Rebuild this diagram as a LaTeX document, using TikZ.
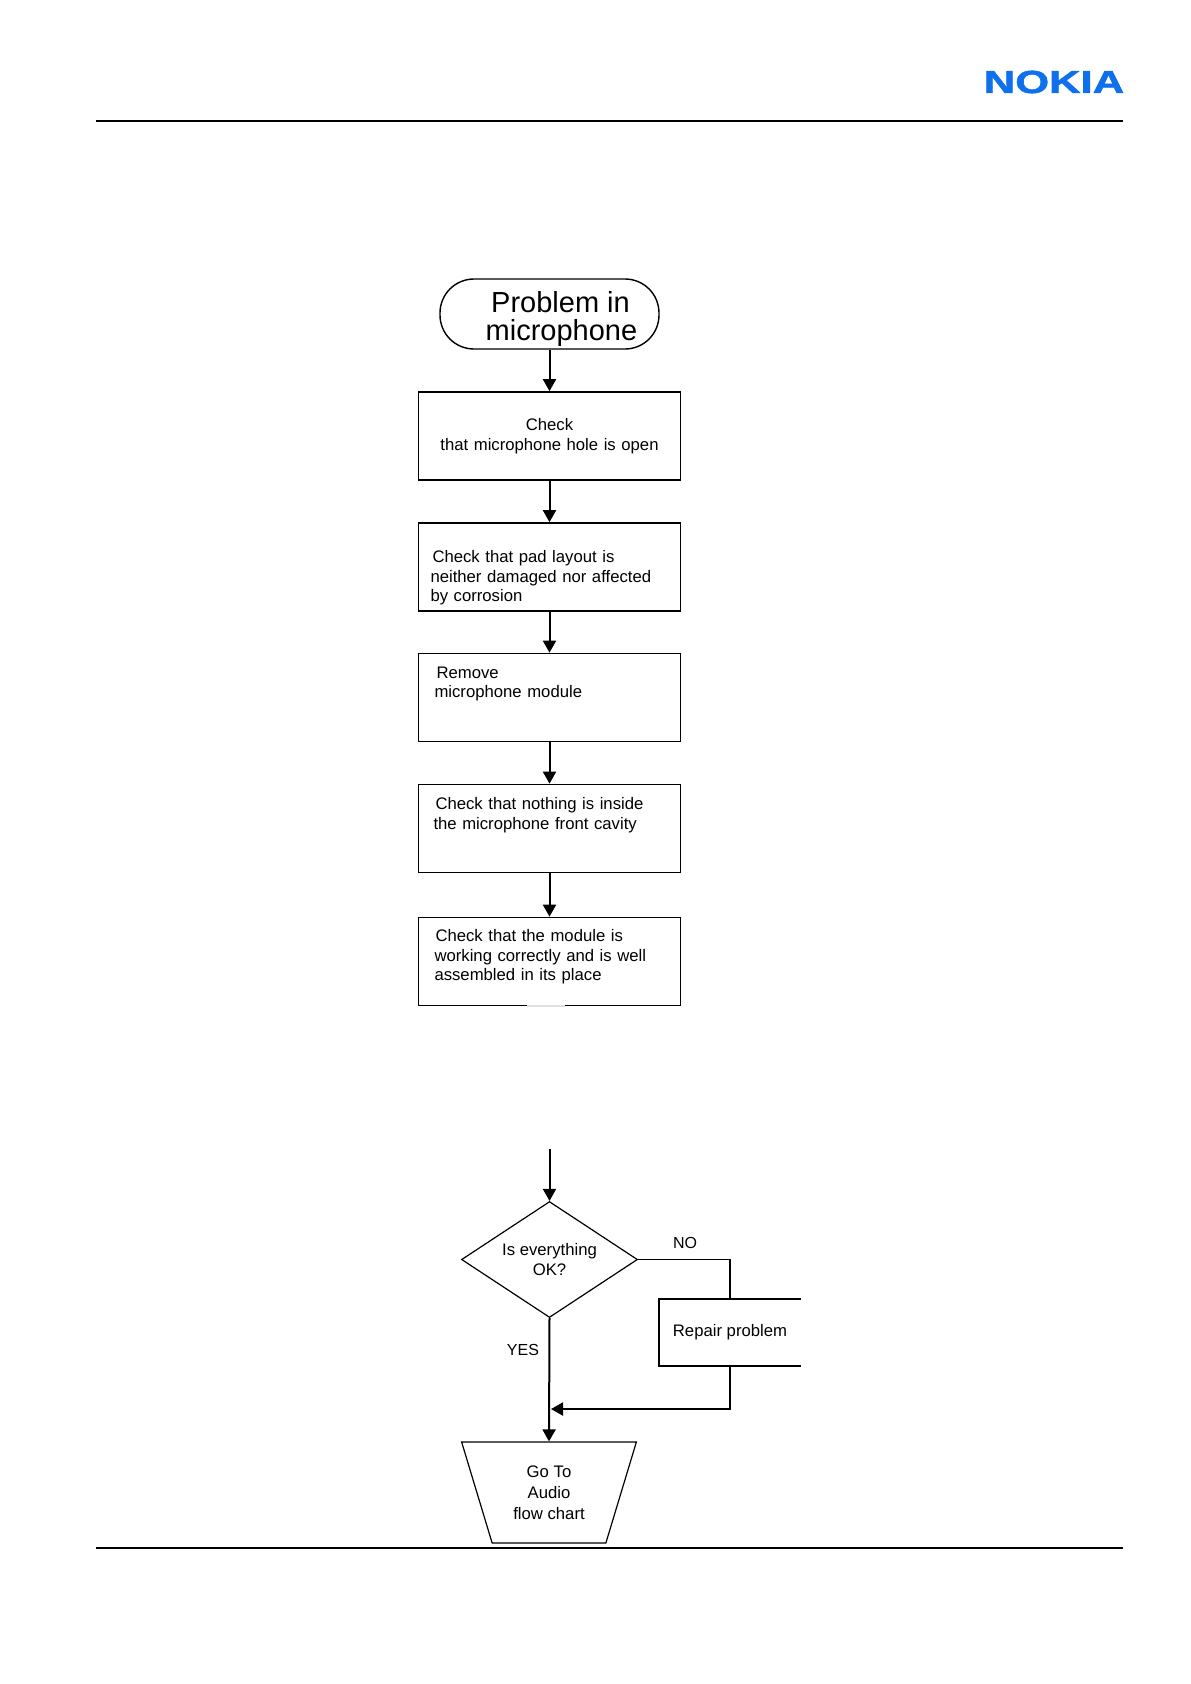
\documentclass[tikz,border=0pt]{standalone}
\usepackage{fontspec}
\usepackage{graphicx}
\setmainfont{Liberation Sans}[BoldFeatures={FakeBold=1.6}]
\usetikzlibrary{arrows.meta,shapes.geometric}
\definecolor{logoblue}{HTML}{0F70EE}
\newcommand{\lineindent}[1]{\hspace*{#1pt}}
\tikzset{
  flowtext/.style={font=\fontsize{16.7}{19.4}\selectfont},
  flowbox/.style={flowtext,draw,line width=1.7pt,rectangle,text width=238pt,inner xsep=12pt,inner ysep=0pt,minimum height=88pt,align=left},
  flowarrow/.style={line width=2pt,-{Triangle[length=12pt,width=13pt]}},
  flowline/.style={line width=1.9pt},
  pagerule/.style={line width=2pt},
  answer/.style={font=\fontsize{16}{20}\selectfont},
}
\begin{document}
\begin{tikzpicture}[x=1pt,y=-1pt]
  \useasboundingbox (0,0) rectangle (1191,1684);
  % page header and footer
  \node (logo) at (1054,82) {\textcolor{logoblue}{\scalebox{1.42}[1.04]{\fontsize{30.7}{31}\selectfont\bfseries NOKIA}}};
  \coordinate (headleft) at (96,121);
  \coordinate (headright) at (1123,121);
  \coordinate (footleft) at (96,1548);
  \coordinate (footright) at (1123,1548);
  \draw[pagerule] (headleft) -- (headright);
  \draw[pagerule] (footleft) -- (footright);

  % flow chart
  \node[draw,line width=1.4pt,rectangle,rounded corners=34pt,minimum width=219pt,minimum height=70pt,inner sep=0pt,align=center,font=\fontsize{29}{28}\selectfont] (problem) at (549.5,314) {\rule{0pt}{32pt}\hspace*{22pt}Problem in\\\hspace*{24pt}microphone};
  \node[flowbox,align=center] (hole) at (549.5,436) {Check\\that microphone hole is open};
  \node[flowbox] (pad) at (549.5,567) {\rule{0pt}{34pt}\lineindent{2}Check that pad layout is\\neither damaged nor affected\\by corrosion};
  \node[flowbox] (remove) at (549.5,697.5) {\lineindent{6}Remove\\\lineindent{4}microphone module\\[11pt]~};
  \node[flowbox] (cavity) at (549.5,828.5) {\lineindent{5}Check that nothing is inside\\\lineindent{3}the microphone front cavity\\[11pt]~};
  \node[flowbox] (module) at (549.5,961.5) {\lineindent{5}Check that the module is\\\lineindent{4}working correctly and is well\\\lineindent{4}assembled in its place\\[-7pt]~};
  \coordinate (gapstart) at (527,1006);
  \coordinate (gapend) at (565,1006);
  \draw[black!12,line width=1.9pt] (gapstart) -- (gapend);
  \coordinate (cutend) at (549.5,1149);
  \node[flowtext,draw,line width=1.2pt,diamond,aspect=2,minimum width=176pt,minimum height=116pt,inner sep=0pt,align=center] (everything) at (549.5,1259.5) {Is everything\\OK?};
  \node[flowtext,minimum width=141pt,minimum height=67pt,inner sep=0pt] (repair) at (730,1332.5) {Repair problem};
  \draw[line width=1.7pt] (repair.north east) -- (repair.north west) -- (repair.south west) -- (repair.south east);
  \node[draw,line width=1.2pt,trapezium,trapezium stretches=true,shape border rotate=180,trapezium left angle=70.4,trapezium right angle=70.4,minimum width=175pt,minimum height=101pt,inner sep=0pt,align=center,font=\fontsize{16.7}{21}\selectfont] (audio) at (549,1492.5) {Go To\\Audio\\flow chart};
  \coordinate (merge) at (551,1409);
  \coordinate (yescorner) at (730,1259.5);
  \node[answer] (yes) at (523,1350) {YES};
  \node[answer] (no) at (685,1243) {NO};

  \draw[flowarrow] (problem.south) -- (hole.north);
  \draw[flowarrow] (hole.south) -- (pad.north);
  \draw[flowarrow] (pad.south) -- (remove.north);
  \draw[flowarrow] (remove.south) -- (cavity.north);
  \draw[flowarrow] (cavity.south) -- (module.north);
  \draw[flowarrow] (cutend) -- (everything.north);
  \draw[flowline] (everything.east) -- (yescorner) -- (repair.north);
  \draw[flowarrow] (repair.south) |- (merge);
  \draw[flowarrow] (everything.south) -- (audio.north);
\end{tikzpicture}
\end{document}
